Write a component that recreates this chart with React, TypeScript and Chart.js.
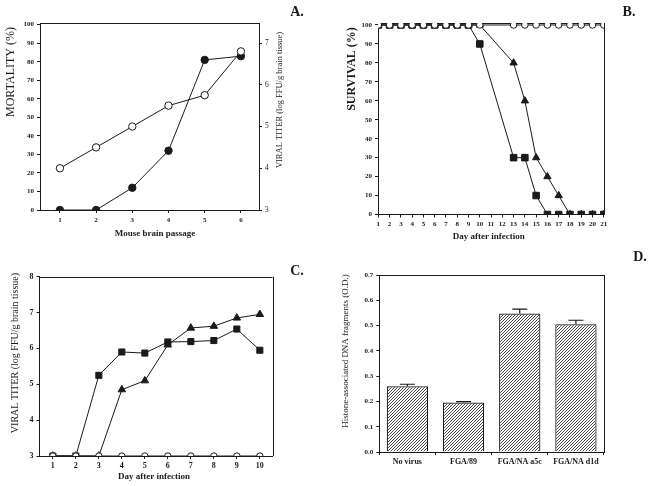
import React, { useEffect, useRef } from "react";
import { Chart, registerables } from "chart.js";
Chart.register(...registerables);

const SERIF = '"Liberation Serif", "Times New Roman", serif';
const INK = "#1a1a1a";

// ---------- Panel A : mouse brain passage ----------
const aPassage = [1, 2, 3, 4, 5, 6];
const aMortality = [0, 0, 12, 32, 81, 83];
const aTiter = [4.0, 4.5, 5.0, 5.5, 5.75, 6.8];
const aMortTicks = [0, 10, 20, 30, 40, 50, 60, 70, 80, 90, 100];
const aTiterTicks = [3, 4, 5, 6, 7];

// ---------- Panel B : survival ----------
const bDays = [1, 2, 3, 4, 5, 6, 7, 8, 9, 10, 13, 14, 15, 16, 17, 18, 19, 20, 21];
const bDayTicks = [1, 2, 3, 4, 5, 6, 7, 8, 9, 10, 11, 12, 13, 14, 15, 16, 17, 18, 19, 20, 21];
const bControl = [100, 100, 100, 100, 100, 100, 100, 100, 100, 100, 100, 100, 100, 100, 100, 100, 100, 100, 100];
const bSquare = [100, 100, 100, 100, 100, 100, 100, 100, 100, 90, 30, 30, 10, 0, 0, 0, 0, 0, 0];
const bTriangle = [100, 100, 100, 100, 100, 100, 100, 100, 100, 100, 80, 60, 30, 20, 10, 0, 0, 0, 0];
const bSurvTicks = [0, 10, 20, 30, 40, 50, 60, 70, 80, 90, 100];

// ---------- Panel C : viral titer ----------
const cDays = [1, 2, 3, 4, 5, 6, 7, 8, 9, 10];
const cControl = [3, 3, 3, 3, 3, 3, 3, 3, 3, 3];
const cSquare = [3, 3, 5.25, 5.9, 5.87, 6.18, 6.19, 6.22, 6.54, 5.95];
const cTriangle = [3, 3, 3, 4.85, 5.1, 6.1, 6.57, 6.62, 6.85, 6.95];
const cTiterTicks = [3, 4, 5, 6, 7, 8];

// ---------- Panel D : DNA fragments ----------
const dLabels = ["No virus", "FGA/89", "FGA/NA a5c", "FGA/NA d1d"];
const dValues = [0.26, 0.196, 0.548, 0.505];
const dErrors = [0.008, 0.003, 0.017, 0.016];
const dTicks = [0, 0.1, 0.2, 0.3, 0.4, 0.5, 0.6, 0.7];

type TextItem = { text: string; x: number; y: number; size: number; bold?: boolean; rot?: number };

function textPlugin(items: TextItem[]) {
  return {
    id: "texts",
    afterDraw(chart: any) {
      const ctx = chart.ctx;
      for (const t of items) {
        ctx.save();
        ctx.translate(t.x, t.y);
        if (t.rot) ctx.rotate(t.rot);
        ctx.font = `${t.bold ? "bold " : ""}${t.size}px ${SERIF}`;
        ctx.fillStyle = INK;
        ctx.textAlign = "center";
        ctx.textBaseline = "middle";
        ctx.fillText(t.text, 0, 0);
        ctx.restore();
      }
    },
  };
}

function framePlugin(sides: { top?: boolean; right?: boolean }) {
  return {
    id: "frame",
    beforeDatasetsDraw(chart: any) {
      const { left, right, top, bottom } = chart.chartArea;
      const ctx = chart.ctx;
      ctx.save();
      ctx.strokeStyle = INK;
      ctx.lineWidth = 1;
      ctx.beginPath();
      const t = Math.round(top) + 0.5;
      const r = Math.round(right) + 0.5;
      if (sides.top) {
        ctx.moveTo(left, t);
        ctx.lineTo(right, t);
      }
      if (sides.right) {
        ctx.moveTo(r, top);
        ctx.lineTo(r, bottom);
      }
      ctx.stroke();
      ctx.restore();
    },
  };
}

function linAxis(o: {
  position: string;
  min: number;
  max: number;
  ticks: number[];
  size: number;
  font: number;
  bold?: boolean;
  pad?: number;
  fmt?: (v: number) => string;
}) {
  const vertical = o.position === "left" || o.position === "right";
  return {
    type: "linear",
    position: o.position,
    min: o.min,
    max: o.max,
    afterBuildTicks: (s: any) => {
      s.ticks = o.ticks.map((v) => ({ value: v }));
    },
    afterFit: (s: any) => {
      if (vertical) s.width = o.size;
      else s.height = o.size;
    },
    grid: { drawOnChartArea: false, drawTicks: true, tickLength: 3, tickColor: INK, tickWidth: 1 },
    border: { display: true, color: INK, width: 1 },
    ticks: {
      autoSkip: false,
      maxRotation: 0,
      padding: o.pad ?? 3,
      color: INK,
      font: { family: SERIF, size: o.font, weight: o.bold === false ? "normal" : "bold" },
      callback: (v: number) => (o.fmt ? o.fmt(v) : String(v)),
    },
  };
}

const pts = (xs: number[], ys: number[]) => xs.map((x, i) => ({ x, y: ys[i] }));

function lineDs(data: any[], style: string, r: number, open: boolean, yAxisID = "y") {
  return {
    data,
    yAxisID,
    borderColor: INK,
    borderWidth: 1,
    pointStyle: style,
    pointRadius: r,
    pointBackgroundColor: open ? "#ffffff" : INK,
    pointBorderColor: INK,
    pointBorderWidth: 1,
    tension: 0,
    fill: false,
  };
}

const baseOpts = {
  responsive: false,
  animation: false,
  devicePixelRatio: 1,
  events: [],
  plugins: { legend: { display: false }, tooltip: { enabled: false } },
};

function configA() {
  return {
    type: "line",
    data: {
      datasets: [
        lineDs(pts(aPassage, aTiter), "circle", 3.7, true, "y1"),
        lineDs(pts(aPassage, aMortality), "circle", 3.7, false, "y"),
      ],
    },
    options: {
      ...baseOpts,
      layout: { padding: { top: 23, left: 0, right: 0, bottom: 0 } },
      scales: {
        x: linAxis({ position: "bottom", min: 0.45, max: 6.5, ticks: aPassage, size: 33, font: 7, pad: 3 }),
        y: linAxis({ position: "left", min: 0, max: 100.9, ticks: aMortTicks, size: 40, font: 7 }),
        y1: linAxis({ position: "right", min: 3, max: 7.48, ticks: aTiterTicks, size: 67, font: 7.5, bold: false }),
      },
    },
    plugins: [
      framePlugin({ top: true }),
      textPlugin([
        { text: "MORTALITY (%)", x: 11, y: 72, size: 12, rot: -Math.PI / 2 },
        { text: "VIRAL TITER (log FFU/g brain tissue)", x: 280, y: 100, size: 8.5, rot: -Math.PI / 2 },
        { text: "Mouse brain passage", x: 155, y: 234, size: 9, bold: true },
        { text: "A.", x: 297, y: 12, size: 14, bold: true },
      ]),
    ],
  };
}

function configB() {
  return {
    type: "line",
    data: {
      datasets: [
        lineDs(pts(bDays, bControl), "circle", 3.3, true),
        lineDs(pts(bDays, bSquare), "rect", 4.6, false),
        lineDs(pts(bDays, bTriangle), "triangle", 4.2, false),
      ],
    },
    options: {
      ...baseOpts,
      layout: { padding: { top: 23, left: 0, right: 48, bottom: 0 } },
      scales: {
        x: linAxis({ position: "bottom", min: 0.97, max: 21.02, ticks: bDayTicks, size: 28.5, font: 7, pad: 2 }),
        y: linAxis({ position: "left", min: 0, max: 101.05, ticks: bSurvTicks, size: 52, font: 7 }),
      },
    },
    plugins: [
      framePlugin({ top: true, right: true }),
      textPlugin([
        { text: "SURVIVAL (%)", x: 25.5, y: 69, size: 12, bold: true, rot: -Math.PI / 2 },
        { text: "Day after infection", x: 162.7, y: 237, size: 9, bold: true },
        { text: "B.", x: 303, y: 12.5, size: 14, bold: true },
      ]),
    ],
  };
}

function configC() {
  return {
    type: "line",
    data: {
      datasets: [
        lineDs(pts(cDays, cControl), "circle", 3.2, true),
        lineDs(pts(cDays, cSquare), "rect", 4.3, false),
        lineDs(pts(cDays, cTriangle), "triangle", 4.3, false),
      ],
    },
    options: {
      ...baseOpts,
      layout: { padding: { top: 33.7, left: 0, right: 53.5, bottom: 0 } },
      scales: {
        x: linAxis({ position: "bottom", min: 0.42, max: 10.55, ticks: cDays, size: 30, font: 8, pad: 2 }),
        y: linAxis({ position: "left", min: 3, max: 8, ticks: cTiterTicks, size: 39.5, font: 8 }),
      },
    },
    plugins: [
      framePlugin({ top: true, right: true }),
      textPlugin([
        { text: "VIRAL TITER (log FFU/g brain tissue)", x: 15, y: 110, size: 10, rot: -Math.PI / 2 },
        { text: "Day after infection", x: 154, y: 234, size: 9, bold: true },
        { text: "C.", x: 297, y: 28, size: 14, bold: true },
      ]),
    ],
  };
}

function hatchPattern() {
  const s = 3;
  const c = document.createElement("canvas");
  c.width = s;
  c.height = s;
  const g = c.getContext("2d")!;
  g.fillStyle = "#ffffff";
  g.fillRect(0, 0, s, s);
  g.strokeStyle = "#333333";
  g.lineWidth = 0.9;
  g.beginPath();
  g.moveTo(0, s);
  g.lineTo(s, 0);
  g.moveTo(-1, 1);
  g.lineTo(1, -1);
  g.moveTo(s - 1, s + 1);
  g.lineTo(s + 1, s - 1);
  g.stroke();
  return g.createPattern(c, "repeat");
}

const errorBars = {
  id: "errorBars",
  afterDatasetsDraw(chart: any) {
    const ctx = chart.ctx;
    const ys = chart.scales.y;
    const meta = chart.getDatasetMeta(0);
    ctx.save();
    ctx.strokeStyle = INK;
    ctx.lineWidth = 1.2;
    meta.data.forEach((bar: any, i: number) => {
      const top = ys.getPixelForValue(dValues[i] + dErrors[i]);
      ctx.beginPath();
      ctx.moveTo(bar.x, bar.y);
      ctx.lineTo(bar.x, top);
      ctx.moveTo(bar.x - 7.5, top);
      ctx.lineTo(bar.x + 7.5, top);
      ctx.stroke();
    });
    ctx.restore();
  },
};

function configD() {
  const yAxis = linAxis({
    position: "left",
    min: 0,
    max: 0.7,
    ticks: dTicks,
    size: 53.3,
    font: 7,
    fmt: (v) => v.toFixed(1),
  });
  return {
    type: "bar",
    data: {
      labels: dLabels,
      datasets: [
        {
          data: dValues,
          backgroundColor: hatchPattern(),
          borderColor: INK,
          borderWidth: 1.2,
          barPercentage: 0.735,
          categoryPercentage: 1,
        },
      ],
    },
    options: {
      ...baseOpts,
      layout: { padding: { top: 32, left: 0, right: 48, bottom: 0 } },
      scales: {
        x: {
          type: "category",
          position: "bottom",
          offset: true,
          afterFit: (s: any) => {
            s.height = 34;
          },
          grid: { offset: true, drawOnChartArea: false, drawTicks: true, tickLength: 3, tickColor: INK },
          border: { display: true, color: INK, width: 1 },
          ticks: {
            autoSkip: false,
            maxRotation: 0,
            padding: 2,
            color: INK,
            font: { family: SERIF, size: 8, weight: "bold" },
          },
        },
        y: yAxis,
      },
    },
    plugins: [
      framePlugin({ top: true, right: true }),
      errorBars,
      textPlugin([
        { text: "Histone-associated DNA fragments (O.D.)", x: 19.5, y: 108, size: 9, rot: -Math.PI / 2 },
        { text: "D.", x: 314, y: 14, size: 14, bold: true },
      ]),
    ],
  };
}

function ChartBox(props: { left: number; top: number; width: number; height: number; make: () => any }) {
  const ref = useRef<HTMLCanvasElement>(null);
  useEffect(() => {
    const chart = new Chart(ref.current as HTMLCanvasElement, props.make());
    return () => chart.destroy();
  }, []);
  return (
    <canvas
      ref={ref}
      width={props.width}
      height={props.height}
      style={{ position: "absolute", left: props.left, top: props.top, width: props.width, height: props.height }}
    />
  );
}

export default function App() {
  return (
    <div
      style={{
        position: "fixed",
        left: 0,
        top: 0,
        width: 652,
        height: 486,
        background: "#ffffff",
        overflow: "hidden",
      }}
    >
      <ChartBox left={0} top={0} width={326} height={243} make={configA} />
      <ChartBox left={326} top={0} width={326} height={243} make={configB} />
      <ChartBox left={0} top={243} width={326} height={243} make={configC} />
      <ChartBox left={326} top={243} width={326} height={243} make={configD} />
    </div>
  );
}
